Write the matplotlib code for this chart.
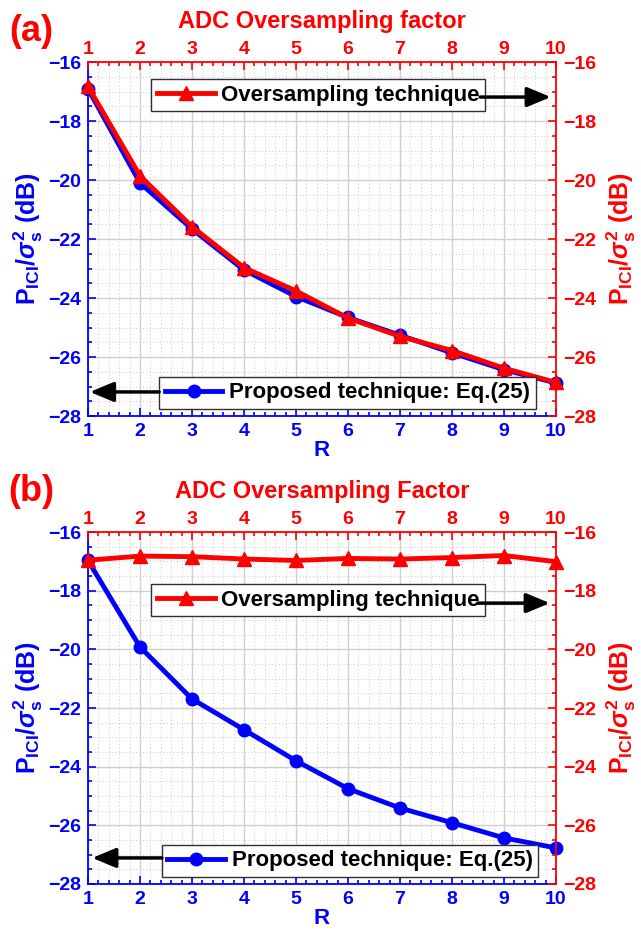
import numpy as np
import matplotlib.pyplot as plt
from matplotlib.ticker import MultipleLocator

plt.rcParams['font.family'] = 'Liberation Sans'
plt.rcParams['font.weight'] = 'bold'
plt.rcParams['mathtext.fontset'] = 'custom'
plt.rcParams['mathtext.rm'] = 'Liberation Sans:bold'
plt.rcParams['mathtext.bf'] = 'Liberation Sans:bold'
plt.rcParams['mathtext.it'] = 'Liberation Sans:bold:italic'

R = np.arange(1, 11)

# panel (a)
prop_a = [-16.91, -20.10, -21.66, -23.05, -23.95, -24.66, -25.26, -25.86, -26.43, -26.88]
over_a = [-16.83, -19.86, -21.58, -22.97, -23.76, -24.68, -25.30, -25.78, -26.38, -26.86]
# panel (b)
prop_b = [-16.97, -19.92, -21.69, -22.74, -23.80, -24.75, -25.41, -25.91, -26.43, -26.77]
over_b = [-16.96, -16.82, -16.84, -16.92, -16.97, -16.90, -16.92, -16.87, -16.80, -17.01]

yticks = [-16, -18, -20, -22, -24, -26, -28]
xticks = list(range(1, 11))

BLUE = '#0000ff'
RED = '#ff0000'
ylab = r'$\mathrm{P}_{\mathrm{ICI}}/\sigma_{\mathrm{s}}^{\mathrm{2}}$ (dB)'

fig = plt.figure(figsize=(6.41, 9.41), dpi=100)

panels = [
    dict(pos=[0.1373, 0.5579, 0.730, 0.3762], prop=prop_a, over=over_a,
         tag='(a)', tagy=0.966, top='ADC Oversampling factor',
         leg1=(0.135, 0.952), arr1=(0.838, 0.989, 0.901),
         leg2=(0.152, 0.02), arr2=(0.152, 0.004, 0.068)),
    dict(pos=[0.1373, 0.0606, 0.730, 0.374], prop=prop_b, over=over_b,
         tag='(b)', tagy=0.478, top='ADC Oversampling Factor',
         leg1=(0.135, 0.852), arr1=(0.833, 0.987, 0.798),
         leg2=(0.158, 0.02), arr2=(0.158, 0.009, 0.074)),
]

for p in panels:
    ax = fig.add_axes(p['pos'])
    ax2 = fig.add_axes(p['pos'])
    ax2.patch.set_visible(False)

    for a in (ax, ax2):
        a.set_xlim(1, 10)
        a.set_ylim(-28, -16)
        a.set_xticks(xticks)
        a.set_yticks(yticks)
        a.xaxis.set_minor_locator(MultipleLocator(0.2))
        a.yaxis.set_minor_locator(MultipleLocator(0.5))
        a.tick_params(which='both', direction='in', labelsize=14, width=1.2, pad=5)
        a.tick_params(which='major', length=6)
        a.tick_params(which='minor', length=3)

    ax.grid(which='major', color='#d0d0d0', lw=1.0)
    ax.grid(which='minor', color='#c8c8c8', lw=0.7, ls=(0, (1, 2.5)))
    ax.set_axisbelow(True)

    # left / bottom : blue
    ax.tick_params(which='both', colors=BLUE, top=False, right=False)
    ax.spines['left'].set_color(BLUE)
    ax.spines['bottom'].set_color(BLUE)
    ax.spines['top'].set_visible(False)
    ax.spines['right'].set_visible(False)
    for s in ax.spines.values():
        s.set_linewidth(1.3)
    ax.set_xlabel('R', color=BLUE, fontsize=16, fontweight='bold', labelpad=0)
    ax.set_ylabel(ylab, color=BLUE, fontsize=18, fontweight='bold', labelpad=2)

    # top / right : red
    ax2.xaxis.tick_top()
    ax2.yaxis.tick_right()
    ax2.xaxis.set_label_position('top')
    ax2.yaxis.set_label_position('right')
    ax2.tick_params(which='both', colors=RED, bottom=False, left=False)
    ax2.tick_params(axis='x', pad=3)
    ax2.spines['top'].set_color(RED)
    ax2.spines['right'].set_color(RED)
    ax2.spines['left'].set_visible(False)
    ax2.spines['bottom'].set_visible(False)
    for s in ax2.spines.values():
        s.set_linewidth(1.3)
    ax2.set_xlabel(p['top'], color=RED, fontsize=17, fontweight='bold', labelpad=9)
    ax2.set_ylabel(ylab, color=RED, fontsize=18, fontweight='bold', labelpad=6)

    l1, = ax.plot(R, p['prop'], '-o', color=BLUE, lw=3.5, ms=9, clip_on=False, zorder=3)
    l2, = ax2.plot(R, p['over'], '-^', color=RED, lw=3.5, ms=10, clip_on=False, zorder=4)

    leg1 = ax2.legend([l2], ['Oversampling technique'], loc='upper left',
                      bbox_to_anchor=p['leg1'], borderaxespad=0, fancybox=False,
                      edgecolor='#303030', framealpha=1, handlelength=2.6,
                      handletextpad=0.3, borderpad=0.25, prop=dict(size=16, weight='bold'))
    leg1.get_frame().set_linewidth(1.0)
    ax2.add_artist(leg1)
    leg2 = ax2.legend([l1], ['Proposed technique: Eq.(25)'], loc='lower left',
                      bbox_to_anchor=p['leg2'], borderaxespad=0, fancybox=False,
                      edgecolor='#303030', framealpha=1, handlelength=2.6,
                      handletextpad=0.3, borderpad=0.25, prop=dict(size=16, weight='bold'))
    leg2.get_frame().set_linewidth(1.0)

    x0, x1, y = p['arr1']
    ax2.annotate('', xy=(x1, y), xytext=(x0, y), xycoords='axes fraction',
                 arrowprops=dict(arrowstyle='-|>,head_length=0.6,head_width=0.25',
                                 color='black', lw=2.5, mutation_scale=24,
                                 shrinkA=0, shrinkB=0), zorder=6)
    x0, x1, y = p['arr2']
    ax2.annotate('', xy=(x1, y), xytext=(x0, y), xycoords='axes fraction',
                 arrowprops=dict(arrowstyle='-|>,head_length=0.6,head_width=0.25',
                                 color='black', lw=2.5, mutation_scale=24,
                                 shrinkA=0, shrinkB=0), zorder=6)

    fig.text(0.048, p['tagy'], p['tag'], color=RED,
             fontsize=26, fontweight='bold', ha='center', va='center')

fig.savefig('out.png', dpi=100)
